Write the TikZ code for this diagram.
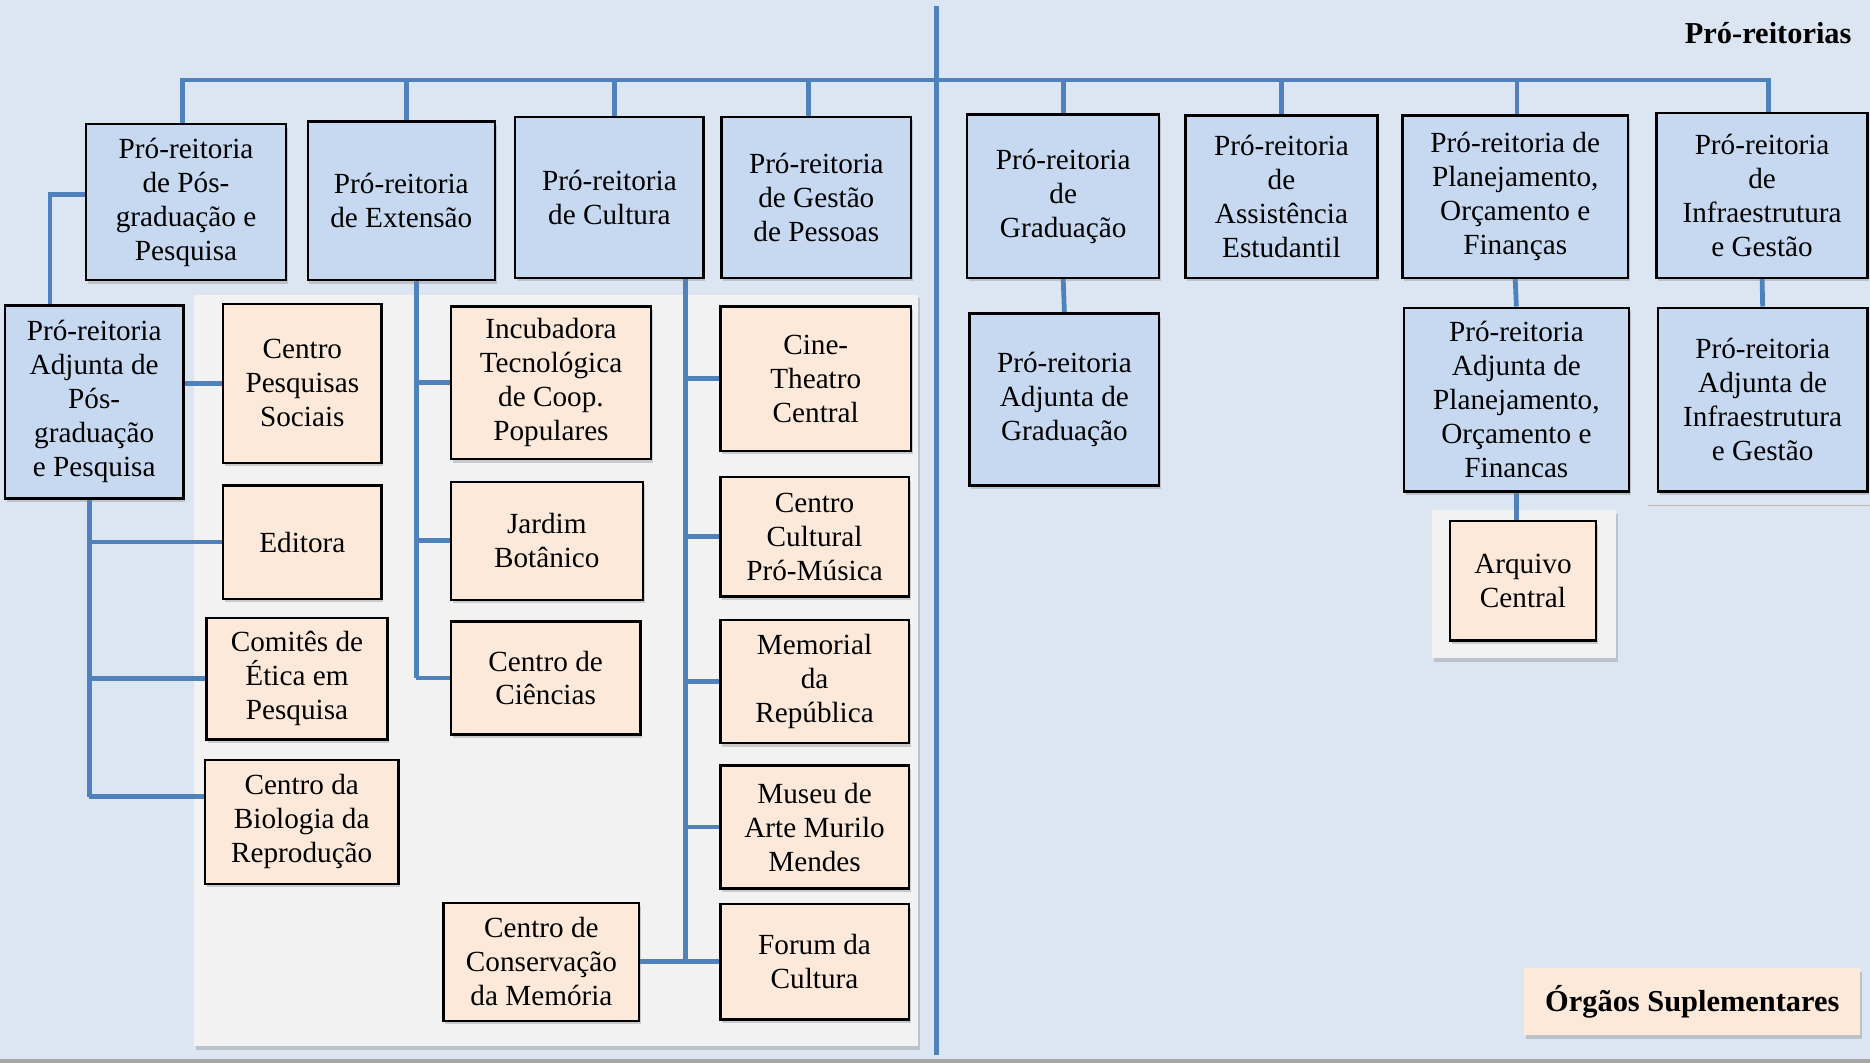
\documentclass[tikz,border=0pt]{standalone}
\usepackage{fontspec}
\setmainfont{Liberation Serif}
\usepackage{tikz}
\usetikzlibrary{shadows,backgrounds}
\definecolor{fundo}{RGB}{220,230,242}
\definecolor{azulcaixa}{RGB}{198,217,241}
\definecolor{pessego}{RGB}{253,233,217}
\definecolor{painel}{RGB}{242,242,242}
\definecolor{linha}{RGB}{79,129,189}

\begin{document}
\begin{tikzpicture}[x=1pt,y=-1pt,
  sombra/.style={drop shadow={shadow xshift=1.5pt,shadow yshift=-3pt,opacity=0.35}},
  caixa/.style={draw=black,line width=2pt,align=center,inner sep=2pt,sombra,
    font=\fontsize{24.5}{28.5}\selectfont},
  tam/.style 2 args={minimum width=#1pt,minimum height=#2pt},
  pro/.style={caixa,fill=azulcaixa},
  orgao/.style={caixa,fill=pessego},
  liga/.style={draw=linha,line width=4pt}]
\useasboundingbox (0,0) rectangle (1568,891);

\begin{pgfonlayer}{background}
\fill[fundo] (0,0) rectangle (1568,891);
\draw[gray!70,line width=3pt] (0,889.5) -- (1568,889.5);
\fill[painel,sombra] (163,247) rectangle (770,877);
\fill[painel,sombra] (1201,428) rectangle (1355,552);
\end{pgfonlayer}

% pro-reitorias
\node[pro,tam={168}{131}] (posg) at (156,169.5) {Pró-reitoria\\de Pós-\\graduação e\\Pesquisa};
\node[pro,tam={157}{133}] (ext) at (336.5,168.5) {Pró-reitoria\\de Extensão};
\node[pro,tam={158}{135}] (cult) at (511,165.5) {Pró-reitoria\\de Cultura};
\node[pro,tam={159}{135}] (gp) at (684.5,165.5) {Pró-reitoria\\de Gestão\\de Pessoas};
\node[pro,tam={161}{137}] (grad) at (891.5,164.5) {Pró-reitoria\\de\\Graduação};
\node[pro,tam={161}{136}] (assist) at (1074.5,165) {Pró-reitoria\\de\\Assistência\\Estudantil};
\node[pro,tam={189}{136}] (plan) at (1270.5,165) {Pró-reitoria de\\Planejamento,\\Orçamento e\\Finanças};
\node[pro,tam={177}{138}] (infra) at (1477.5,164) {Pró-reitoria\\de\\Infraestrutura\\e Gestão};

% adjuntas
\node[pro,tam={150}{162}] (adjpos) at (79,337) {Pró-reitoria\\Adjunta de\\Pós-\\graduação\\e Pesquisa};
\node[pro,tam={159}{144}] (adjgrad) at (892.5,335) {Pró-reitoria\\Adjunta de\\Graduação};
\node[pro,tam={189}{154}] (adjplan) at (1271.5,335) {Pró-reitoria\\Adjunta de\\Planejamento,\\Orçamento e\\Financas};
\node[pro,tam={176}{154}] (adjinfra) at (1478,335) {Pró-reitoria\\Adjunta de\\Infraestrutura\\e Gestão};

% orgaos suplementares
\node[orgao,tam={133}{133}] (cps) at (253.5,321.5) {Centro\\Pesquisas\\Sociais};
\node[orgao,tam={133}{95}] (edit) at (253.5,454.5) {Editora};
\node[orgao,tam={152}{102}] (comite) at (249,569) {Comitês de\\Ética em\\Pesquisa};
\node[orgao,tam={162}{104}] (cbr) at (253,689) {Centro da\\Biologia da\\Reprodução};
\node[orgao,tam={168}{128}] (incub) at (462,321) {Incubadora\\Tecnológica\\de Coop.\\Populares};
\node[orgao,tam={161}{99}] (jardim) at (458.5,453.5) {Jardim\\Botânico};
\node[orgao,tam={159}{95}] (ciencias) at (457.5,568.5) {Centro de\\Ciências};
\node[orgao,tam={164}{99}] (ccm) at (454,806.5) {Centro de\\Conservação\\da Memória};
\node[orgao,tam={160}{121}] (cine) at (684,317.5) {Cine-\\Theatro\\Central};
\node[orgao,tam={158}{100}] (ccpm) at (683,450) {Centro\\Cultural\\Pró-Música};
\node[orgao,tam={158}{103}] (memorial) at (683,571.5) {Memorial\\da\\República};
\node[orgao,tam={158}{103}] (museu) at (683,693.5) {Museu de\\Arte Murilo\\Mendes};
\node[orgao,tam={158}{97}] (forum) at (683,806.5) {Forum da\\Cultura};
\node[orgao,tam={122}{100}] (arquivo) at (1277,487) {Arquivo\\Central};

\node[font=\fontsize{25.5}{28}\selectfont\bfseries,anchor=east] (titulo) at (1556,28) {Pró-reitorias};
\node[fill=pessego,sombra,tam={282}{56},font=\fontsize{25.5}{28}\selectfont\bfseries] (supl) at (1419,840) {Órgãos Suplementares};

\coordinate (barra) at (0,67);
\coordinate (meioA) at (785,5);
\coordinate (meioB) at (785,885);
\coordinate (posE) at ([xshift=-37pt]adjpos.north);
\coordinate (adjS) at ([xshift=-4pt]adjpos.south);
\coordinate (extS) at ([xshift=12.5pt]ext.south);
\coordinate (cultS) at ([xshift=64pt]cult.south);
\coordinate (cbrW) at ([yshift=21pt]cbr.west);

\begin{pgfonlayer}{background}
\draw[gray!55,line width=0.8pt] (1382,424) -- (1568,424);
\draw[liga] (meioA) -- (meioB);
\foreach \n/\d in {posg/-3,ext/4.5,cult/4,gp/-6.5,grad/0,assist/0,plan/1.5,infra/5.5}{
  \coordinate (topo) at ([xshift=\d pt]\n.north);
  \draw[liga] (topo) -- (topo |- barra);
}
\draw[liga] ([xshift=-5pt]posg.north |- barra) -- ([xshift=7.5pt]infra.north |- barra);
\draw[liga] ([yshift=6.5pt]posg.west) -| (posE);
\draw[liga] (adjpos.east |- cps.west) -- (cps.west);
\draw[liga] (adjpos.south -| adjS) -- (adjS |- cbrW);
\foreach \n in {edit,comite}
  \draw[liga] (adjS |- \n.west) -- (\n.west);
\draw[liga] (adjS |- cbrW) -- (cbrW);
\draw[liga] (extS) -- (extS |- ciencias.west);
\foreach \n in {incub,jardim,ciencias}
  \draw[liga] (extS |- \n.west) -- (\n.west);
\draw[liga] (cultS) -- (cultS |- forum.west);
\foreach \n in {cine,ccpm,memorial,museu,forum}
  \draw[liga] (cultS |- \n.west) -- (\n.west);
\draw[liga] (ccm.east) -- (cultS |- ccm.east);
\draw[liga] (grad.south) -- (adjgrad.north);
\draw[liga] (plan.south) -- (adjplan.north);
\draw[liga] (infra.south) -- (adjinfra.north);
\draw[liga] (adjplan.south) -- (adjplan.south |- arquivo.north);
\end{pgfonlayer}
\end{tikzpicture}
\end{document}
